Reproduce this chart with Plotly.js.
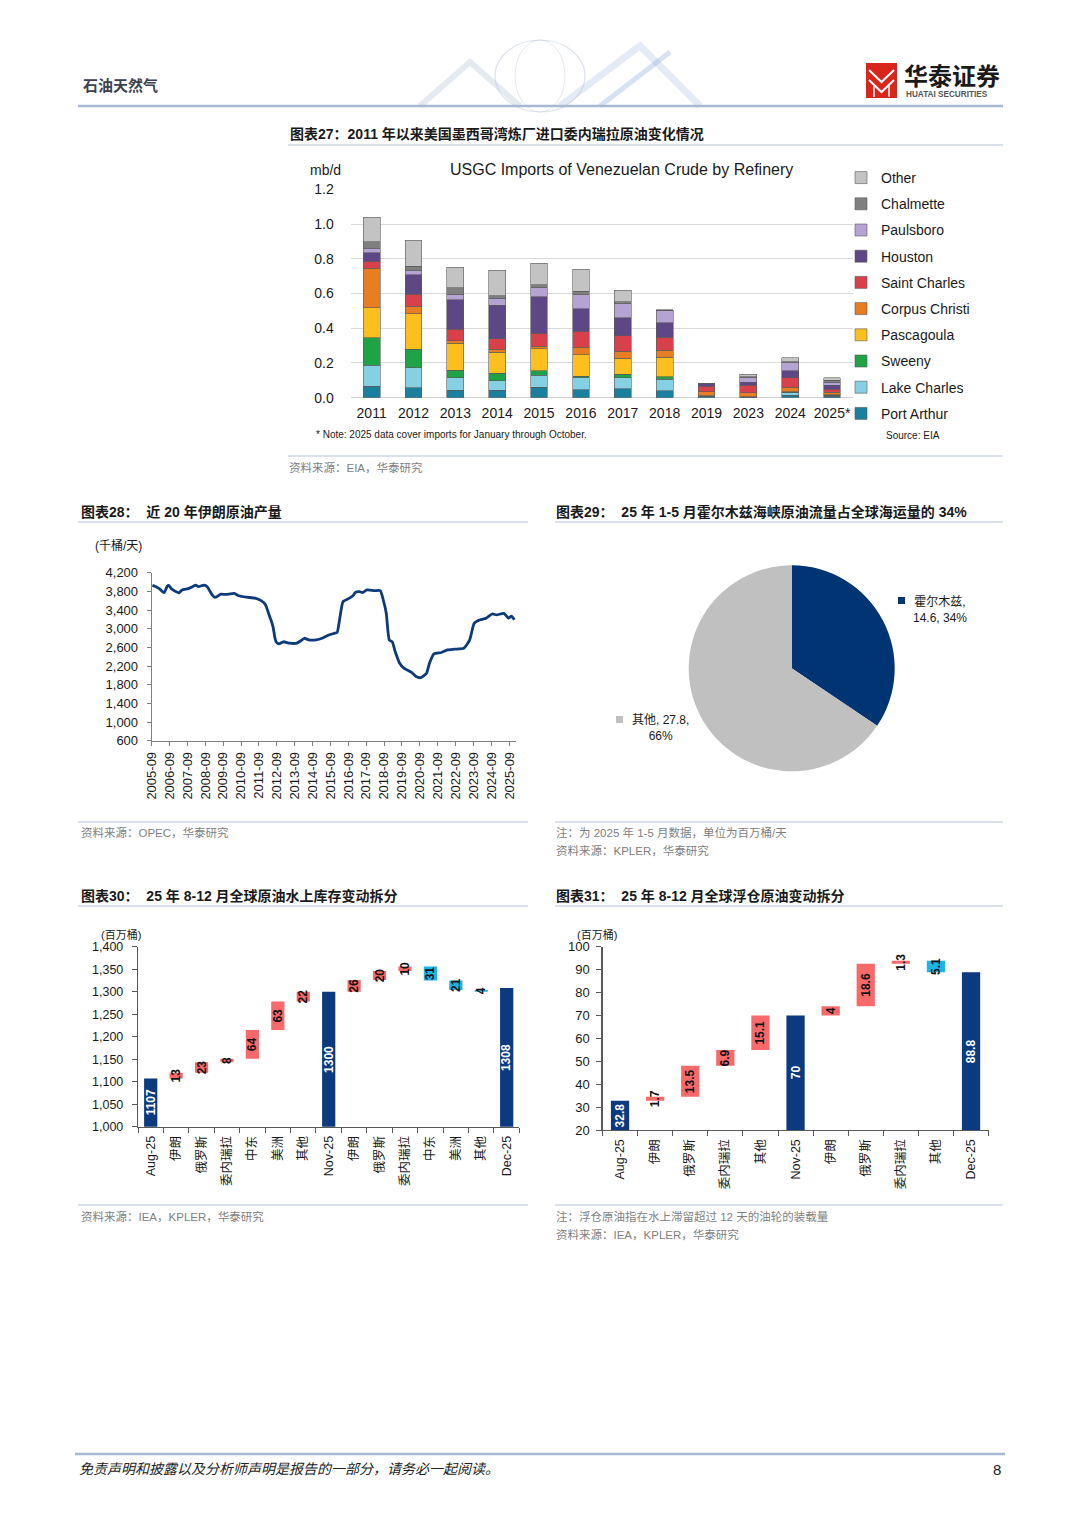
<!DOCTYPE html>
<html><head><meta charset="utf-8">
<script src="https://cdn.plot.ly/plotly-3.0.1.min.js"></script>
<style>html,body{margin:0;padding:0;background:#fff;}#page{width:1080px;height:1527px;}</style>
</head><body><div id="page"></div>
<script>
// ---------- Chart 27 data (mb/d) ----------
const years = ['2011','2012','2013','2014','2015','2016','2017','2018','2019','2023','2024','2025*'];
const refineryNames = ['Port Arthur','Lake Charles','Sweeny','Pascagoula','Corpus Christi','Saint Charles','Houston','Paulsboro','Chalmette','Other'];
const portArthur    = [0.067,0.056,0.044,0.042,0.060,0.046,0.052,0.040,0.008,0.004,0.015,0.008];
const lakeCharles   = [0.119,0.117,0.071,0.056,0.069,0.069,0.063,0.066,0.002,0.002,0.013,0.004];
const sweeny        = [0.160,0.107,0.044,0.042,0.027,0.008,0.021,0.015,0.000,0.000,0.002,0.003];
const pascagoula    = [0.172,0.202,0.154,0.121,0.126,0.123,0.091,0.113,0.000,0.000,0.003,0.002];
const corpusChristi = [0.227,0.046,0.015,0.017,0.014,0.044,0.040,0.039,0.024,0.023,0.027,0.014];
const saintCharles  = [0.040,0.067,0.066,0.062,0.075,0.092,0.090,0.075,0.033,0.044,0.056,0.018];
const houston       = [0.050,0.112,0.169,0.192,0.211,0.129,0.102,0.084,0.012,0.015,0.040,0.022];
const paulsboro     = [0.023,0.024,0.034,0.040,0.055,0.082,0.084,0.071,0.000,0.031,0.046,0.019];
const chalmette     = [0.041,0.025,0.035,0.014,0.012,0.021,0.010,0.002,0.000,0.002,0.006,0.010];
const other         = [0.140,0.150,0.119,0.147,0.125,0.127,0.065,0.002,0.000,0.013,0.022,0.015];

// ---------- Chart 28 data (千桶/天) ----------
const iranDates = ['2005-09','2005-12','2006-02','2006-04','2006-05','2006-07','2006-08','2006-10','2007-01','2007-03','2007-05','2007-09','2007-12','2008-02','2008-04','2008-06','2008-08','2008-10','2009-01','2009-03','2009-05','2009-07','2009-10','2010-01','2010-04','2010-07','2010-12','2011-06','2011-10','2012-01','2012-03','2012-05','2012-06','2012-07','2012-08','2012-10','2013-01','2013-05','2013-10','2014-01','2014-03','2014-06','2014-11','2015-03','2015-07','2015-11','2016-01','2016-03','2016-05','2016-09','2016-12','2017-01','2017-04','2017-06','2017-09','2018-02','2018-06','2018-08','2018-10','2018-12','2019-02','2019-04','2019-07','2019-10','2020-03','2020-06','2020-09','2021-01','2021-03','2021-06','2021-11','2022-03','2022-08','2023-02','2023-06','2023-09','2024-01','2024-05','2024-09','2024-12','2025-05','2025-08','2025-10','2025-12'];
const iranOutput = [3930,3890,3850,3790,3775,3910,3930,3850,3790,3770,3830,3860,3900,3935,3900,3920,3935,3890,3730,3670,3700,3740,3735,3745,3755,3705,3675,3655,3600,3510,3330,3150,3040,2850,2720,2675,2720,2690,2690,2750,2795,2760,2760,2795,2860,2900,2920,3260,3580,3650,3720,3775,3795,3775,3830,3815,3815,3615,3330,2760,2720,2510,2260,2150,2065,1975,1950,2045,2260,2460,2490,2545,2560,2580,2760,3115,3190,3225,3315,3295,3330,3225,3270,3190];
const iranTicks = ['2005-09','2006-09','2007-09','2008-09','2009-09','2010-09','2011-09','2012-09','2013-09','2014-09','2015-09','2016-09','2017-09','2018-09','2019-09','2020-09','2021-09','2022-09','2023-09','2024-09','2025-09'];

// ---------- Chart 29 data (百万桶/天) ----------
const pieLabels = ['霍尔木兹','其他'];
const pieValues = [14.6, 27.8];

// ---------- Chart 30 data (百万桶) ----------
const storageLabels = ['Aug-25','伊朗','俄罗斯','委内瑞拉','中东','美洲','其他','Nov-25','伊朗','俄罗斯','委内瑞拉','中东','美洲','其他','Dec-25'];
const storageValues = [1107,13,23,8,64,63,22,1300,26,20,10,-31,-21,-4,1308];
const storageMeasure = ['absolute','relative','relative','relative','relative','relative','relative','absolute','relative','relative','relative','relative','relative','relative','absolute'];

// ---------- Chart 31 data (百万桶) ----------
const floatLabels = ['Aug-25','伊朗','俄罗斯','委内瑞拉','其他','Nov-25','伊朗','俄罗斯','委内瑞拉','其他','Dec-25'];
const floatValues = [32.8,1.7,13.5,6.9,15.1,70,4,18.6,1.3,-5.1,88.8];
const floatMeasure = ['absolute','relative','relative','relative','relative','absolute','relative','relative','relative','relative','absolute'];

// ================= drawing =================
const W = 1080, H = 1527;
const X = px => px / W, Y = py => 1 - py / H;
const FONT = 'Liberation Sans, Arial, Noto Sans CJK SC, sans-serif';
const TXT = '#1a1a1a', GRAY = '#7f7f7f';
const NAVY = '#0b3a7e';
const STORAGE_MIN = 1000, STORAGE_MAX = 1400, FLOAT_MIN = 20, FLOAT_MAX = 100;

const seriesValues = [portArthur, lakeCharles, sweeny, pascagoula, corpusChristi, saintCharles, houston, paulsboro, chalmette, other];
const seriesColors = ['#1b7f9e','#86d0e3','#1ea446','#fdbf1d','#e97d22','#d8404b','#5e4785','#b4a3d3','#7f7f7f','#c3c3c3'];

const traces = [];
refineryNames.forEach((n, i) => {
  traces.push({type:'bar', name:n, x:years, y:seriesValues[i], xaxis:'x', yaxis:'y',
    marker:{color:seriesColors[i], line:{color:'#5a5a5a', width:0.6}},
    legendgroup:n, legendrank:refineryNames.length - i, hoverinfo:'skip'});
});

traces.push({type:'scatter', mode:'lines', x:iranDates.map(d => d + '-15'), y:iranOutput, xaxis:'x2', yaxis:'y2',
  line:{color:'#0d3a78', width:2.8, shape:'spline', smoothing:0.5}, showlegend:false, hoverinfo:'skip'});

traces.push({type:'pie', labels:pieLabels, values:pieValues, sort:false, direction:'clockwise', rotation:0,
  marker:{colors:['#003472','#c0c0c0'], line:{width:0}}, textinfo:'none', showlegend:false, hoverinfo:'skip',
  domain:{x:[X(688.7), X(894.7)], y:[Y(771.3), Y(565.3)]}});

function wfText(vals, meas) { return vals.map((v, i) => meas[i] === 'absolute' ? '' : '<b>' + Math.abs(v) + '</b>'); }

traces.push({type:'waterfall', x:storageLabels.map((_, i) => i), y:storageValues, measure:storageMeasure,
  xaxis:'x3', yaxis:'y3', text:wfText(storageValues, storageMeasure), textposition:'inside', textangle:-90, insidetextanchor:'middle',
  textfont:{size:12, family:FONT, color:'#111111'}, cliponaxis:true,
  increasing:{marker:{color:'#f8696b'}}, decreasing:{marker:{color:'#1cb4ea'}}, totals:{marker:{color:NAVY}},
  connector:{visible:false}, showlegend:false, hoverinfo:'skip'});

traces.push({type:'waterfall', x:floatLabels.map((_, i) => i), y:floatValues, measure:floatMeasure,
  xaxis:'x4', yaxis:'y4', text:wfText(floatValues, floatMeasure), textposition:'inside', textangle:-90, insidetextanchor:'middle',
  textfont:{size:12, family:FONT, color:'#111111'}, cliponaxis:true,
  increasing:{marker:{color:'#f8696b'}}, decreasing:{marker:{color:'#1cb4ea'}}, totals:{marker:{color:NAVY}},
  connector:{visible:false}, showlegend:false, hoverinfo:'skip'});

// ----- annotations -----
function T(px, py, text, size, opts) {
  return Object.assign({xref:'paper', yref:'paper', x:X(px), y:Y(py), text:text, showarrow:false,
    xanchor:'left', yanchor:'middle', borderpad:0, font:{size:size, color:TXT, family:FONT}}, opts || {});
}
// labels of total bars, centred in the visible part of each bar
function totalLabels(vals, meas, xref, yref, ymin) {
  const out = [];
  vals.forEach((v, i) => {
    if (meas[i] !== 'absolute') return;
    out.push({xref:xref, yref:yref, x:i, y:(ymin + v) / 2, text:'<b>' + v + '</b>', textangle:-90, showarrow:false,
      xanchor:'center', yanchor:'middle', borderpad:0, font:{size:12, color:'#ffffff', family:FONT}});
  });
  return out;
}
const S2 = '\u00a0\u00a0';
const pct = pieValues.map(v => Math.round(v / pieValues.reduce((a, b) => a + b, 0) * 100));
const annotations = [
  T(82, 86, '<b>石油天然气</b>', 15, {font:{size:15, color:'#3b4150', family:FONT}}),
  T(903, 76, '<b>华泰证券</b>', 24, {font:{size:24, color:'#1a1a1a', family:FONT}}),
  T(905, 94, '<b>HUATAI SECURITIES</b>', 8.2, {font:{size:8.2, color:'#555555', family:FONT}}),

  T(289, 134, '<b>图表27：2011 年以来美国墨西哥湾炼厂进口委内瑞拉原油变化情况</b>', 14),
  T(309, 170, 'mb/d', 14),
  T(621, 170, 'USGC Imports of Venezuelan Crude by Refinery', 16, {xanchor:'center'}),
  T(315, 434, '* Note: 2025 data cover imports for January through October.', 10),
  T(885, 435, 'Source: EIA', 10),
  T(288, 467, '资料来源：EIA，华泰研究', 11.5, {font:{size:11.5, color:GRAY, family:FONT}}),

  T(80, 512, '<b>图表28：' + S2 + '近 20 年伊朗原油产量</b>', 14),
  T(94, 545, '(千桶/天)', 12),
  T(80, 832, '资料来源：OPEC，华泰研究', 11.5, {font:{size:11.5, color:GRAY, family:FONT}}),

  T(555, 512, '<b>图表29：' + S2 + '25 年 1-5 月霍尔木兹海峡原油流量占全球海运量的 34%</b>', 14),
  T(940, 609, pieLabels[0] + ',<br>' + pieValues[0] + ', ' + pct[0] + '%', 12, {xanchor:'center', align:'center'}),
  T(660, 728, pieLabels[1] + ', ' + pieValues[1] + ',<br>' + pct[1] + '%', 12, {xanchor:'center', align:'center'}),
  T(555, 832, '注：为 2025 年 1-5 月数据，单位为百万桶/天', 11.5, {font:{size:11.5, color:GRAY, family:FONT}}),
  T(555, 850, '资料来源：KPLER，华泰研究', 11.5, {font:{size:11.5, color:GRAY, family:FONT}}),

  T(80, 896, '<b>图表30：' + S2 + '25 年 8-12 月全球原油水上库存变动拆分</b>', 14),
  T(100, 934, '(百万桶)', 11),
  T(80, 1216, '资料来源：IEA，KPLER，华泰研究', 11.5, {font:{size:11.5, color:GRAY, family:FONT}}),

  T(555, 896, '<b>图表31：' + S2 + '25 年 8-12 月全球浮仓原油变动拆分</b>', 14),
  T(576, 934, '(百万桶)', 11),
  T(555, 1216, '注：浮仓原油指在水上滞留超过 12 天的油轮的装载量', 11.5, {font:{size:11.5, color:GRAY, family:FONT}}),
  T(555, 1234, '资料来源：IEA，KPLER，华泰研究', 11.5, {font:{size:11.5, color:GRAY, family:FONT}}),

  T(78, 1469, '<i>免责声明和披露以及分析师声明是报告的一部分，请务必一起阅读。</i>', 14, {font:{size:14, color:'#222', family:'Liberation Serif, Noto Sans CJK SC, serif'}}),
  T(1002, 1469, '8', 15, {xanchor:'right'})
].concat(totalLabels(storageValues, storageMeasure, 'x3', 'y3', STORAGE_MIN))
 .concat(totalLabels(floatValues, floatMeasure, 'x4', 'y4', FLOAT_MIN));

// ----- shapes -----
function L(x0, y0, x1, y1, color, width) {
  return {type:'line', xref:'paper', yref:'paper', x0:X(x0), y0:Y(y0), x1:X(x1), y1:Y(y1), line:{color:color, width:width}};
}
function R(x0, y0, x1, y1, fill) {
  return {type:'rect', xref:'paper', yref:'paper', x0:X(x0), y0:Y(y0), x1:X(x1), y1:Y(y1), fillcolor:fill, line:{width:0}};
}
function P(pts, color, width, fill) {
  const d = pts.map((p, i) => (i ? 'L' : 'M') + X(p[0]).toFixed(5) + ',' + Y(p[1]).toFixed(5)).join(' ') + (fill ? ' Z' : '');
  return {type:'path', xref:'paper', yref:'paper', path:d, line:{color:color, width:width}, fillcolor:fill || 'rgba(0,0,0,0)'};
}
const SEC = '#b7c3d8';
const shapes = [
  // header decoration (faint)
  P([[420,106],[470,62],[520,106]], 'rgba(170,185,210,0.30)', 6),
  P([[560,106],[640,46],[700,106]], 'rgba(170,190,220,0.30)', 7),
  P([[600,106],[670,52]], 'rgba(120,160,215,0.30)', 5),
  {type:'circle', xref:'paper', yref:'paper', x0:X(495), y0:Y(112), x1:X(585), y1:Y(40), line:{color:'rgba(170,185,210,0.40)', width:1.2}},
  {type:'circle', xref:'paper', yref:'paper', x0:X(515), y0:Y(112), x1:X(565), y1:Y(40), line:{color:'rgba(170,185,210,0.30)', width:1}},
  L(78, 106, 1003, 106, '#a8b8d2', 2.5),
  // logo
  R(866, 63, 897, 98, '#d8261d'),
  P([[869,70],[881.5,82],[894,70]], '#ffffff', 2),
  P([[869,80],[881.5,92],[894,80]], '#ffffff', 2),
  L(874, 86, 874, 97, '#ffffff', 1.5),
  L(889, 86, 889, 97, '#ffffff', 1.5),
  // section lines
  L(288, 145, 1003, 145, SEC, 1), L(288, 456, 1003, 456, SEC, 1),
  L(78, 522, 528, 522, SEC, 1), L(78, 822, 528, 822, SEC, 1),
  L(555, 522, 1003, 522, SEC, 1), L(555, 822, 1003, 822, SEC, 1),
  L(78, 906, 528, 906, SEC, 1), L(78, 1205, 528, 1205, SEC, 1),
  L(555, 906, 1003, 906, SEC, 1), L(555, 1205, 1003, 1205, SEC, 1),
  // pie label keys
  R(898, 597, 905, 604, '#003472'),
  R(616, 716, 623, 723, '#c0c0c0'),
  // footer line
  L(75, 1454, 1005, 1454, '#a8b8d2', 2.5)
];

function range(n, start) { const a = []; for (let i = 0; i < n; i++) a.push(start + i); return a; }
const AX = '#595959';

const layout = {
  width:W, height:H, margin:{l:0, r:0, t:0, b:0}, paper_bgcolor:'#fff', plot_bgcolor:'rgba(0,0,0,0)',
  font:{family:FONT, color:TXT},
  barmode:'stack', bargap:0.6, waterfallgap:0.48,
  uniformtext:{minsize:12, mode:'show'},
  showlegend:true,
  legend:{x:X(841), y:Y(162), xanchor:'left', yanchor:'top', traceorder:'grouped', tracegroupgap:5,
    font:{size:14, color:TXT, family:FONT}, bgcolor:'rgba(0,0,0,0)', borderwidth:0, itemwidth:30},
  xaxis:{domain:[X(350.7), X(853)], anchor:'y', type:'category', showgrid:false, ticks:'', showline:false,
    tickfont:{size:14, color:TXT}, ticklabelstandoff:5, fixedrange:true},
  yaxis:{domain:[Y(397.7), Y(189.3)], anchor:'x', range:[0, 1.2], tick0:0, dtick:0.2, tickformat:'.1f',
    gridcolor:'#d9d9d9', gridwidth:1, zeroline:true, zerolinecolor:'#d0d0d0', zerolinewidth:1, showline:false,
    tickfont:{size:14, color:TXT}, ticklabelstandoff:16, fixedrange:true},

  xaxis2:{domain:[X(151.7), X(515.7)], anchor:'y2', type:'date', range:['2005-09-01', '2026-01-10'],
    tickmode:'array', tickvals:iranTicks.map(t => t + '-01'), ticktext:iranTicks, tickangle:-90,
    ticks:'outside', ticklen:4, tickcolor:'#808080', showline:true, linecolor:'#808080', linewidth:1,
    showgrid:false, zeroline:false, tickfont:{size:13, color:TXT}, ticklabelstandoff:1},
  yaxis2:{domain:[Y(740.7), Y(572.7)], anchor:'x2', range:[600, 4200], tick0:600, dtick:400, tickformat:',d',
    ticks:'outside', ticklen:4, tickcolor:'#808080', showline:true, linecolor:'#808080', linewidth:1,
    showgrid:false, zeroline:false, tickfont:{size:13, color:TXT}, ticklabelstandoff:6},

  xaxis3:{domain:[X(138), X(519.4)], anchor:'y3', range:[-0.5, storageLabels.length - 0.5],
    tickmode:'array', tickvals:range(storageLabels.length, 0), ticktext:storageLabels, tickangle:-90, ticks:'',
    minor:{tickmode:'array', tickvals:range(storageLabels.length + 1, 0).map(v => v - 0.5), ticks:'outside', ticklen:5, tickcolor:AX},
    showline:true, linecolor:AX, linewidth:1.2, showgrid:false, zeroline:false, tickfont:{size:12.5, color:TXT}, ticklabelstandoff:3},
  yaxis3:{domain:[Y(1126.7), Y(946.7)], anchor:'x3', range:[STORAGE_MIN, STORAGE_MAX], tick0:STORAGE_MIN, dtick:50, tickformat:',d',
    ticks:'outside', ticklen:5, tickcolor:AX, showline:true, linecolor:AX, linewidth:1.2,
    showgrid:false, zeroline:false, tickfont:{size:12.5, color:TXT}, ticklabelstandoff:6},

  xaxis4:{domain:[X(602.5), X(988.6)], anchor:'y4', range:[-0.5, floatLabels.length - 0.5],
    tickmode:'array', tickvals:range(floatLabels.length, 0), ticktext:floatLabels, tickangle:-90, ticks:'',
    minor:{tickmode:'array', tickvals:range(floatLabels.length + 1, 0).map(v => v - 0.5), ticks:'outside', ticklen:5, tickcolor:AX},
    showline:true, linecolor:AX, linewidth:1.2, showgrid:false, zeroline:false, tickfont:{size:12.5, color:TXT}, ticklabelstandoff:3},
  yaxis4:{domain:[Y(1130), Y(946.7)], anchor:'x4', range:[FLOAT_MIN, FLOAT_MAX], tick0:FLOAT_MIN, dtick:10,
    ticks:'outside', ticklen:5, tickcolor:AX, showline:true, linecolor:AX, linewidth:1.2,
    showgrid:false, zeroline:false, tickfont:{size:13, color:TXT}, ticklabelstandoff:4},

  annotations:annotations, shapes:shapes
};

Plotly.newPlot('page', traces, layout, {staticPlot:true, displayModeBar:false, responsive:false});
</script></body></html>
